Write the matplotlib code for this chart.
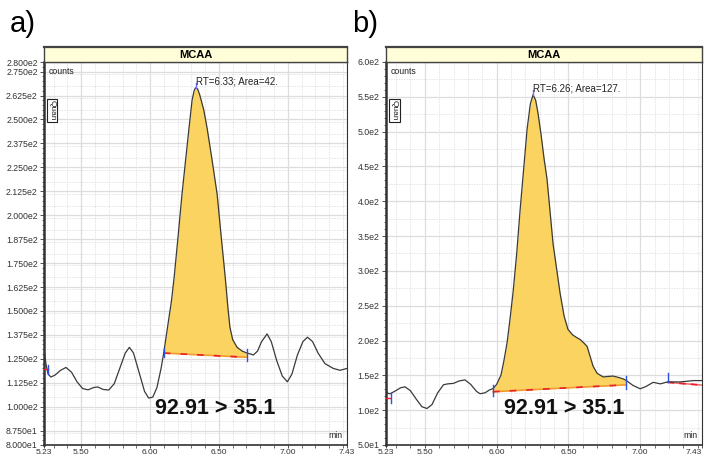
import matplotlib.pyplot as plt
import matplotlib.ticker as mticker
import numpy as np

plt.rcParams['font.family'] = ['Liberation Sans', 'DejaVu Sans']

# ---- panel a data (time in min, counts) ----
a_time = [5.23, 5.245, 5.26, 5.28, 5.31, 5.35, 5.39, 5.43, 5.47, 5.51, 5.55, 5.59, 5.62,
          5.66, 5.70, 5.74, 5.78, 5.82, 5.85, 5.88, 5.92, 5.96, 5.99, 6.02, 6.05, 6.08,
          6.10, 6.13, 6.155, 6.175, 6.205, 6.232, 6.26, 6.283, 6.305, 6.32, 6.33, 6.345,
          6.36, 6.39, 6.414, 6.45, 6.487, 6.515, 6.546, 6.565, 6.58, 6.60, 6.632, 6.67,
          6.705, 6.73, 6.75, 6.78, 6.81, 6.85, 6.88, 6.92, 6.96, 6.997, 7.03, 7.07, 7.11,
          7.143, 7.18, 7.22, 7.27, 7.33, 7.38, 7.43]
a_counts = [130, 122, 117, 115.5, 116.5, 119, 120.5, 118, 113, 109.5, 108.8, 110, 110.3,
            109, 108.7, 112, 120, 128, 131, 128, 118, 108, 104.5, 105, 110, 120,
            128.4, 143, 155, 167.6, 190, 211, 230, 245.6, 260, 265, 266.5, 266,
            263, 255, 245.6, 229, 211, 190, 167.5, 152, 141.5, 135, 131, 129,
            128, 127.5, 127, 129, 134, 138, 134, 124, 116, 113, 117, 127, 134,
            136.3, 134, 128, 122.5, 120, 119, 120]
a_peak = (6.10, 6.705)
a_base = (128, 125.8)
a_label = 'RT=6.33; Area=42.'
a_yticks = [80, 87.5, 100, 112.5, 125, 137.5, 150, 162.5, 175, 187.5, 200, 212.5, 225,
            237.5, 250, 262.5, 275, 280]
a_ylabels = ['8.000e1', '8.750e1', '1.000e2', '1.125e2', '1.250e2', '1.375e2', '1.500e2',
             '1.625e2', '1.750e2', '1.875e2', '2.000e2', '2.125e2', '2.250e2', '2.375e2',
             '2.500e2', '2.625e2', '2.750e2', '2.800e2']

# ---- panel b data ----
b_time = [5.23, 5.245, 5.258, 5.29, 5.33, 5.362, 5.40, 5.44, 5.48, 5.515, 5.55, 5.59,
          5.63, 5.66, 5.70, 5.74, 5.78, 5.82, 5.86, 5.885, 5.92, 5.95, 5.975, 6.00, 6.03,
          6.05, 6.073, 6.09, 6.114, 6.14, 6.163, 6.19, 6.212, 6.235, 6.254, 6.272, 6.288,
          6.31, 6.33, 6.351, 6.37, 6.393, 6.42, 6.442, 6.47, 6.497, 6.53, 6.56, 6.581,
          6.61, 6.63, 6.65, 6.672, 6.70, 6.742, 6.78, 6.81, 6.85, 6.88, 6.90, 6.95, 7.00,
          7.04, 7.09, 7.14, 7.19, 7.28, 7.37, 7.43]
b_counts = [128, 124, 123.6, 127, 132, 133.6, 128, 116, 105, 102.4, 108, 125,
            136.5, 137.8, 138.5, 142, 143.5, 137, 127, 123.6, 125, 129, 131, 137, 150,
            170, 197, 225, 268, 325, 386, 450, 503, 540, 553, 545, 527,
            495, 462, 432, 390, 339, 300, 268, 235, 216, 208, 204, 201.6,
            196, 191.6, 178, 163, 153, 147.7, 148.5, 149, 147, 145, 143, 135.5, 130.7,
            134, 140, 137.8, 140.6, 140.6, 142.5, 142.5]
b_peak = (5.975, 6.90)
b_base = (126.5, 136.4)
b_label = 'RT=6.26; Area=127.'
b_yticks = [50, 100, 150, 200, 250, 300, 350, 400, 450, 500, 550, 600]
b_ylabels = ['5.0e1', '1.0e2', '1.5e2', '2.0e2', '2.5e2', '3.0e2', '3.5e2', '4.0e2',
             '4.5e2', '5.0e2', '5.5e2', '6.0e2']

x_ticks = [5.23, 5.50, 6.00, 6.50, 7.00, 7.43]
x_labels = ['5.23', '5.50', '6.00', '6.50', '7.00', '7.43']
transition = '92.91 > 35.1'

W, H = 704, 458
fig = plt.figure(figsize=(W / 100, H / 100), dpi=100)


def panel(left, right, t, c, peak, base, label, yticks, ylabels, yminor, ydots, letter,
          extra_base=None):
    ax = fig.add_axes([left / W, (H - 445) / H, (right - left) / W, 383 / H])
    bar = fig.add_axes([left / W, (H - 62) / H, (right - left) / W, 15 / H])
    bar.set_facecolor('#FFFED8')
    bar.set_xticks([])
    bar.set_yticks([])
    for s in bar.spines.values():
        s.set_color('#444444')
        s.set_linewidth(1.0)
    bar.spines['top'].set_linewidth(1.6)
    bar.text(0.5, 0.45, 'MCAA', ha='center', va='center', fontsize=8, fontweight='bold',
             transform=bar.transAxes)

    t = np.array(t)
    c = np.array(c)
    ax.set_xlim(5.23, 7.43)
    ax.set_ylim(yticks[0], yticks[-1])

    # ticks and grid
    ax.set_xticks(x_ticks)
    ax.set_xticklabels(x_labels)
    ax.xaxis.set_minor_locator(mticker.MultipleLocator(0.1))
    ax.set_yticks(yticks)
    ax.set_yticklabels(ylabels)
    ax.yaxis.set_minor_locator(mticker.MultipleLocator(yminor))
    ax.grid(which='major', color='#DDDDDD', lw=0.9)
    ax.grid(which='minor', axis='x', color='#DDDDDD', lw=0.6, ls=(0, (1.5, 1.5)))
    for v in np.arange(yticks[0], yticks[-1], ydots):
        ax.axhline(v, color='#DDDDDD', lw=0.6, ls=(0, (1.5, 1.5)), zorder=0.5)
    ax.set_axisbelow(True)
    ax.tick_params(axis='y', which='major', labelsize=6.3, length=3, width=0.6,
                   colors='#333333', pad=1.5)
    ax.tick_params(axis='x', which='major', labelsize=6.0, length=2, width=0.6,
                   colors='#333333', pad=0.8)
    ax.tick_params(which='minor', length=1.8, width=0.5, color='#333333')
    for s in ax.spines.values():
        s.set_color('#333333')
        s.set_linewidth(0.8)
    ax.spines['left'].set_linewidth(1.8)
    ax.spines['bottom'].set_linewidth(1.2)
    if right > W - 10:
        ax.get_xticklabels()[-1].set_horizontalalignment('right')

    # peak fill
    m = (t >= peak[0]) & (t <= peak[1])
    bl = np.interp(t[m], peak, base)
    ax.fill_between(t[m], bl, c[m], color='#FAD360', lw=0, zorder=2)
    ax.plot(peak, base, color='#F59A30', lw=1.2, zorder=3)
    ax.plot(peak, base, color='#E8202A', lw=1.2, ls=(0, (4, 6)), zorder=3)
    ax.plot(t, c, color='#3A3A3A', lw=0.9, zorder=4, solid_joinstyle='round')

    # integration markers
    yr = yticks[-1] - yticks[0]
    for px, pb, cc in ((peak[0], base[0], c[m][0]), (peak[1], base[1], c[m][-1])):
        ax.plot([px, px], [min(pb, cc) - 0.01 * yr, max(pb, cc) + 0.01 * yr],
                color='#3050E0', lw=1.0, zorder=5)
    ax.plot([5.23, 5.26], [c[1] - 0.012 * yr] * 2, color='#E8202A', lw=1.0, zorder=5)
    ax.plot([5.262, 5.262], [c[1] - 0.025 * yr, c[1] + 0.0 * yr], color='#3050E0',
            lw=1.0, zorder=5)
    if extra_base is not None:
        ax.plot(extra_base[0], extra_base[1], color='#F07070', lw=1.2, zorder=3)
        ax.plot(extra_base[0], extra_base[1], color='#E8202A', lw=1.2,
                ls=(0, (4, 3)), zorder=3)
        ax.plot([extra_base[0][0]] * 2, [extra_base[1][0], extra_base[1][0] + 0.025 * yr],
                color='#3050E0', lw=1.0, zorder=5)

    apex = np.argmax(c)
    ax.plot([t[apex]] * 2, [c[apex], c[apex] + 0.012 * yr], color='#7070FF', lw=1.0,
            zorder=5)
    ax.text(t[apex], c[apex] + 0.004 * yr, label, fontsize=7, ha='left', va='bottom',
            color='#222222', zorder=6)

    ax.text(0.015, 0.988, 'counts', transform=ax.transAxes, fontsize=6.3, va='top',
            ha='left', color='#222222')
    ax.text(0.027, 0.9, 'Quan', transform=ax.transAxes, fontsize=6, rotation=270,
            va='top', ha='center', color='#222222',
            bbox=dict(boxstyle='square,pad=0.2', fc='white', ec='#222222', lw=0.8))
    ax.text(0.985, 0.012, 'min', transform=ax.transAxes, fontsize=6.3, va='bottom',
            ha='right', color='#222222')
    ax.text(0.565, 0.095, transition, transform=ax.transAxes, fontsize=15.5,
            fontweight='bold', ha='center', va='center', color='#111111')

    fig.text((left - 34) / W, 1 - 24 / H, letter, fontsize=21, ha='left', va='center')
    return ax


panel(44, 347, a_time, a_counts, a_peak, a_base, a_label, a_yticks, a_ylabels, 2.5, 6.25,
      'a)')
panel(386, 702, b_time, b_counts, b_peak, b_base, b_label, b_yticks, b_ylabels, 10, 25,
      'b)', extra_base=([7.19, 7.43], [140, 136]))

fig.savefig('out.png', dpi=100)
